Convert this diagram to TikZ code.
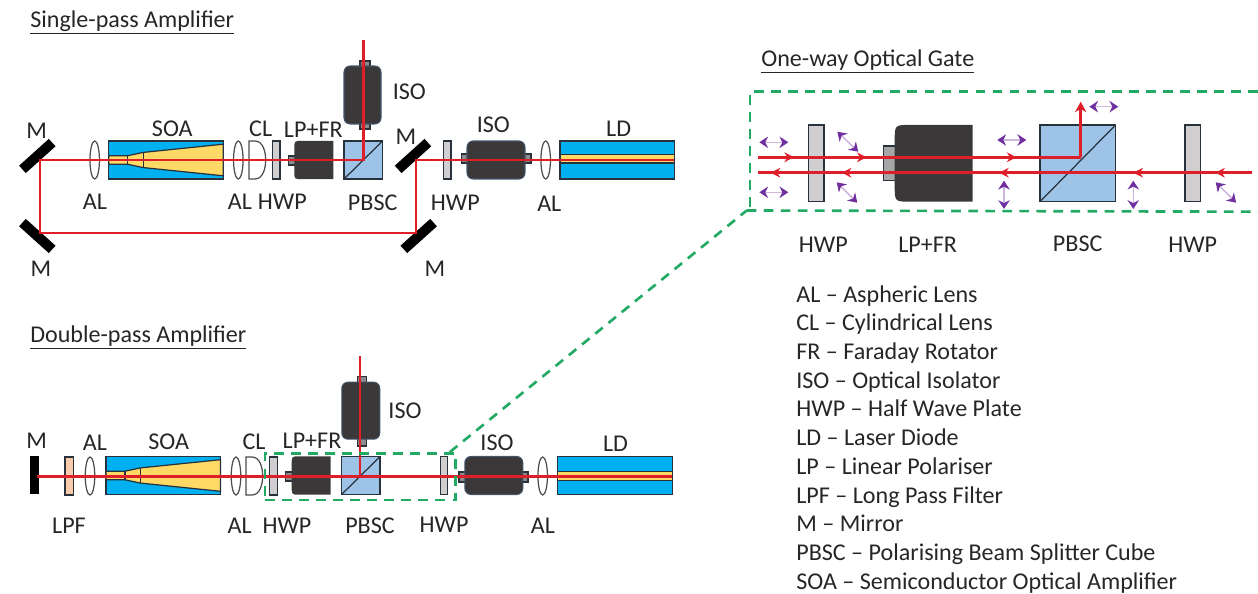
\documentclass[tikz,border=0pt]{standalone}
\usepackage{fontspec}
\setmainfont{Carlito}
\usetikzlibrary{shapes.geometric,arrows.meta,decorations.markings}

\definecolor{beamred}{RGB}{222,30,40}
\definecolor{soablue}{RGB}{0,176,240}
\definecolor{soayellow}{RGB}{255,217,102}
\definecolor{cubeblue}{RGB}{157,195,230}
\definecolor{isodark}{RGB}{58,56,56}
\definecolor{isoedge}{RGB}{68,84,106}
\definecolor{plategray}{RGB}{208,206,206}
\definecolor{gategreen}{RGB}{34,170,100}
\definecolor{lpfpeach}{RGB}{248,203,173}
\definecolor{polpurple}{RGB}{112,48,160}
\definecolor{edgedark}{RGB}{40,50,60}

\begin{document}
\begin{tikzpicture}[
  x=.02cm, y=-.02cm,
  lbl/.style={font=\fontsize{13.7}{15}\selectfont, text=black!85, inner sep=0pt},
  part/.style={draw=edgedark, line width=.7pt, inner sep=0pt, outer sep=0pt},
  mirror/.style={fill=black, inner sep=0pt, minimum width=.8cm, minimum height=.2cm},
  lens/.style={ellipse, draw=black!70, line width=.7pt, inner sep=0pt, minimum width=.19cm, minimum height=.76cm},
  plate/.style={part, fill=plategray, minimum width=.155cm, minimum height=.76cm},
  bigplate/.style={plate, minimum width=.31cm, minimum height=1.53cm},
  chip/.style={part, fill=soablue, minimum width=2.29cm, minimum height=.76cm},
  ldcore/.style={part, fill=soayellow, minimum width=2.29cm, minimum height=.17cm},
  cube/.style={part, fill=cubeblue, minimum width=.77cm, minimum height=.76cm},
  isobody/.style={draw=isoedge, line width=.6pt, fill=isodark, rounded corners=3.5pt, inner sep=0pt},
  isotab/.style={part, fill=black!45},
  beam/.style={draw=beamred, line width=1.5pt},
  gatebeam/.style={draw=beamred, line width=1.7pt},
  tips/.style={postaction={decorate}, decoration={markings, #1}},
  gatebox/.style={draw=gategreen, line width=1.5pt, dash pattern=on 5.5pt off 4.2pt},
  pol/.style={draw=polpurple!35, line width=.9pt,
              {Stealth[color=polpurple,length=5pt,width=6.5pt]}-{Stealth[color=polpurple,length=5pt,width=6.5pt]}},
  soacore/.pic={
    \filldraw[fill=soayellow, draw=edgedark, line width=.7pt] (0,-4.3) -- (19,-4.3) -- (34.6,-7.6) -- (114.6,-15.8)
      -- (114.6,15.8) -- (34.6,7.6) -- (19,4.3) -- (0,4.3) -- cycle;
    \draw[edgedark, line width=.7pt] (19,-4.3) -- (19,4.3) (34.6,-7.6) -- (34.6,7.6);
  },
  clens/.pic={
    \draw[black!70, line width=.7pt] (0,-19) -- (0,19) -- (6,19) .. controls (14,19) and (16.7,8) .. (16.7,0)
      .. controls (16.7,-8) and (14,-19) .. (6,-19) -- cycle;
  },
  frbody/.pic={
    \fill[isodark] (19.5,-19.2) -- (-11.5,-19.2) .. controls (-19.5,-19.2) .. (-19.5,-11.2) -- (-19.5,11.2)
      .. controls (-19.5,19.2) .. (-11.5,19.2) -- (19.5,19.2) -- cycle;
  },
]
\useasboundingbox (0,0) rectangle (1258,594);

% single-pass amplifier
\node[lbl, anchor=west] (titleA) at (30,22.5) {\underline{Single-pass Amplifier}};
\node[mirror, rotate=42] (mTL) at (37.3,156) {};
\node[mirror, rotate=-42] (mBL) at (37.3,236) {};
\node[mirror, rotate=42] (mTR) at (413,156) {};
\node[mirror, rotate=42] (mBR) at (418.7,236) {};
\node[lens] (alA) at (94.7,160) {};
\node[chip] (soaA) at (166,160) {};
\pic at (soaA.west) {soacore};
\node[lens] (alB) at (238.3,160) {};
\pic at (249,160) {clens};
\node[plate] (hwpA) at (276.2,160) {};
\node[isotab, minimum width=.14cm, minimum height=.18cm] (frtabA) at (291.7,160.5) {};
\pic at (313.8,160) {frbody};
\node[cube] (pbscA) at (363.3,160) {};
\draw[part] (pbscA.south west) -- (pbscA.north east);
\node[isotab, minimum width=.2cm, minimum height=1.36cm] (isotabA) at (365,95) {};
\node[isobody, minimum width=.74cm, minimum height=1.16cm] (isoA) at (362.5,95) {};
\node[plate] (hwpB) at (447.2,160) {};
\node[isotab, minimum width=1.39cm, minimum height=.18cm] (isotabB) at (496.3,158.5) {};
\node[isobody, minimum width=1.16cm, minimum height=.76cm] (isoB) at (496,160) {};
\node[lens] (alC) at (545.7,160) {};
\node[chip] (ldA) at (617.2,160) {};
\node[ldcore] (ldcoreA) at (617.2,158.7) {};

\coordinate (hitTL) at (40,160);
\coordinate (hitBL) at (40,233);
\coordinate (hitTR) at (416,160);
\coordinate (hitBR) at (416,233);
\coordinate (outA) at (363.3,40);
\draw[beam] (ldA.east) -- (hitTR) -- (hitBR) -- (hitBL) -- (hitTL) -- (pbscA.center) -- (outA);

\node[lbl] (lblMa) at (36.7,131) {M};
\node[lbl] (lblSOAa) at (172.3,129) {SOA};
\node[lbl] (lblCLa) at (260.7,129) {CL};
\node[lbl] (lblFRa) at (313.3,130) {LP+FR};
\node[lbl] (lblALa) at (95,202) {AL};
\node[lbl] (lblALb) at (240,202) {AL};
\node[lbl] (lblHWPa) at (282.3,202) {HWP};
\node[lbl] (lblPBSCa) at (372.7,203) {PBSC};
\node[lbl] (lblMb) at (41,269) {M};
\node[lbl] (lblISOa) at (409.3,92) {ISO};
\node[lbl] (lblMc) at (406,137) {M};
\node[lbl] (lblISOb) at (493.3,125) {ISO};
\node[lbl] (lblLDa) at (618.7,129) {LD};
\node[lbl] (lblHWPb) at (455.3,203) {HWP};
\node[lbl] (lblALc) at (549.3,204) {AL};
\node[lbl] (lblMd) at (435,269) {M};

% double-pass amplifier
\node[lbl, anchor=west] (titleB) at (30,337.5) {\underline{Double-pass Amplifier}};
\node[fill=black, inner sep=0pt, minimum width=.18cm, minimum height=.77cm] (mDP) at (34.5,475) {};
\node[part, fill=lpfpeach, minimum width=.165cm, minimum height=.76cm] (lpfC) at (69.2,476) {};
\node[lens] (alD) at (90,476) {};
\node[chip] (soaC) at (163.2,475.5) {};
\pic at (soaC.west) {soacore};
\node[lens] (alE) at (236,476) {};
\pic at (246,476) {clens};
\node[plate] (hwpC) at (273.5,476) {};
\node[isotab, minimum width=.14cm, minimum height=.18cm] (frtabC) at (288.8,476.5) {};
\pic at (311.2,475.5) {frbody};
\node[cube] (pbscC) at (360.8,475.5) {};
\draw[part] (pbscC.south west) -- (pbscC.north east);
\node[isotab, minimum width=.18cm, minimum height=1.39cm] (isotabC) at (361.7,411.3) {};
\node[isobody, minimum width=.76cm, minimum height=1.14cm] (isoC) at (360.8,410.7) {};
\node[plate] (hwpD) at (444,475.5) {};
\node[isotab, minimum width=1.38cm, minimum height=.2cm] (isotabD) at (493.5,477) {};
\node[isobody, minimum width=1.16cm, minimum height=.76cm] (isoD) at (493.8,475.5) {};
\node[lens] (alF) at (542.7,476) {};
\node[chip] (ldC) at (614.9,475.5) {};
\node[ldcore] (ldcoreC) at (614.9,476) {};

\coordinate (hitDP) at (37.3,476.5);
\coordinate (turnC) at (360,476.5);
\coordinate (outC) at (360,356);
\draw[beam] (ldC.east |- turnC) -- (hitDP);
\draw[beam] (turnC) -- (outC);

\node[gatebox, minimum width=3.81cm, minimum height=.934cm, inner sep=0pt] (gateA) at (360.3,476.7) {};

\node[lbl] (lblMe) at (36.7,441) {M};
\node[lbl] (lblALd) at (95,443) {AL};
\node[lbl] (lblSOAc) at (168.7,442) {SOA};
\node[lbl] (lblCLc) at (254,442) {CL};
\node[lbl] (lblFRc) at (312,441) {LP+FR};
\node[lbl] (lblLPF) at (69,526) {LPF};
\node[lbl] (lblALe) at (239.7,526) {AL};
\node[lbl] (lblHWPc) at (287,526) {HWP};
\node[lbl] (lblPBSCc) at (370,526) {PBSC};
\node[lbl] (lblHWPd) at (444,525) {HWP};
\node[lbl] (lblALf) at (543,526) {AL};
\node[lbl] (lblISOc) at (405,411) {ISO};
\node[lbl] (lblISOd) at (497,443) {ISO};
\node[lbl] (lblLDc) at (615.5,444) {LD};

% one-way optical gate
\node[lbl, anchor=west] (titleG) at (761,61.5) {\underline{One-way Optical Gate}};
\coordinate (gateTR) at (1258,91.7);
\coordinate (gateTL) at (750,91.7);
\coordinate (gateBL) at (750,211.7);
\coordinate (gateBR) at (1258,211.7);
\coordinate (gateFoot) at (746.7,210.5);
\draw[gatebox] (gateTR) -- (gateTL) -- (gateBL);
\draw[gatebox] (gateFoot) -- (gateBR);
\draw[gatebox] ([xshift=-.14cm]gateA.north east) -- (gateFoot);

\node[bigplate] (hwpG) at (816.2,163.3) {};
\node[part, fill=black!35, minimum width=.25cm, minimum height=.69cm] (frtabG) at (889.5,163.3) {};
\pic[scale=2] at (933.7,163.3) {frbody};
\node[part, fill=cubeblue, minimum width=1.51cm, minimum height=1.53cm] (pbscG) at (1077.8,163.3) {};
\draw[part] (pbscG.south west) -- (pbscG.north east);
\node[bigplate] (hwpH) at (1192.8,163.3) {};

\coordinate (inG) at (758.3,157.3);
\coordinate (turnG) at (1080.7,157.3);
\coordinate (outG) at (1080.7,101.7);
\coordinate (inH) at (1251.7,172.7);
\coordinate (outH) at (758.3,172.7);
\draw[gatebeam, tips={mark=at position .111 with {\arrow{Stealth[length=5.5pt,width=5.5pt]}},
                      mark=at position .336 with {\arrow{Stealth[length=5.5pt,width=5.5pt]}},
                      mark=at position .801 with {\arrow{Stealth[length=5.5pt,width=5.5pt]}}}] (inG) -- (turnG);
\draw[gatebeam, -{Stealth[length=6pt,width=6.5pt]}] (turnG) -- (outG);
\draw[gatebeam, tips={mark=at position .074 with {\arrow{Stealth[length=5.5pt,width=5.5pt]}},
                      mark=at position .240 with {\arrow{Stealth[length=5.5pt,width=5.5pt]}},
                      mark=at position .512 with {\arrow{Stealth[length=5.5pt,width=5.5pt]}},
                      mark=at position .831 with {\arrow{Stealth[length=5.5pt,width=5.5pt]}},
                      mark=at position .975 with {\arrow{Stealth[length=5.5pt,width=5.5pt]}}}] (inH) -- (outH);

\draw[pol] (759.3,142.3) -- +(29,0);
\draw[pol] (759.3,192.3) -- +(29,0);
\draw[pol] (837.3,131.7) -- +(21,20);
\draw[pol] (836.7,182.3) -- +(20.6,20.4);
\draw[pol] (997.3,140) -- +(29,0);
\draw[pol] (1089.3,106.7) -- +(29,0);
\draw[pol] (1004,180.7) -- +(0,28.3);
\draw[pol] (1133.3,180.7) -- +(0,28.3);
\draw[pol] (1215.7,182.3) -- +(20.4,20.4);

\node[lbl] (lblHWPg) at (823.3,245) {HWP};
\node[lbl] (lblFRg) at (927.7,245) {LP+FR};
\node[lbl] (lblPBSCg) at (1077.7,243.5) {PBSC};
\node[lbl] (lblHWPh) at (1192.7,245) {HWP};

% key to the abbreviations
\node[lbl, anchor=north west, align=left, font=\fontsize{13.7}{16.35}\selectfont] (legend) at (796,285) {
  AL -- Aspheric Lens \\
  CL -- Cylindrical Lens \\
  FR -- Faraday Rotator \\
  ISO -- Optical Isolator \\
  HWP -- Half Wave Plate \\
  LD -- Laser Diode \\
  LP -- Linear Polariser \\
  LPF -- Long Pass Filter \\
  M -- Mirror \\
  PBSC -- Polarising Beam Splitter Cube \\
  SOA -- Semiconductor Optical Amplifier
};

\end{tikzpicture}
\end{document}
